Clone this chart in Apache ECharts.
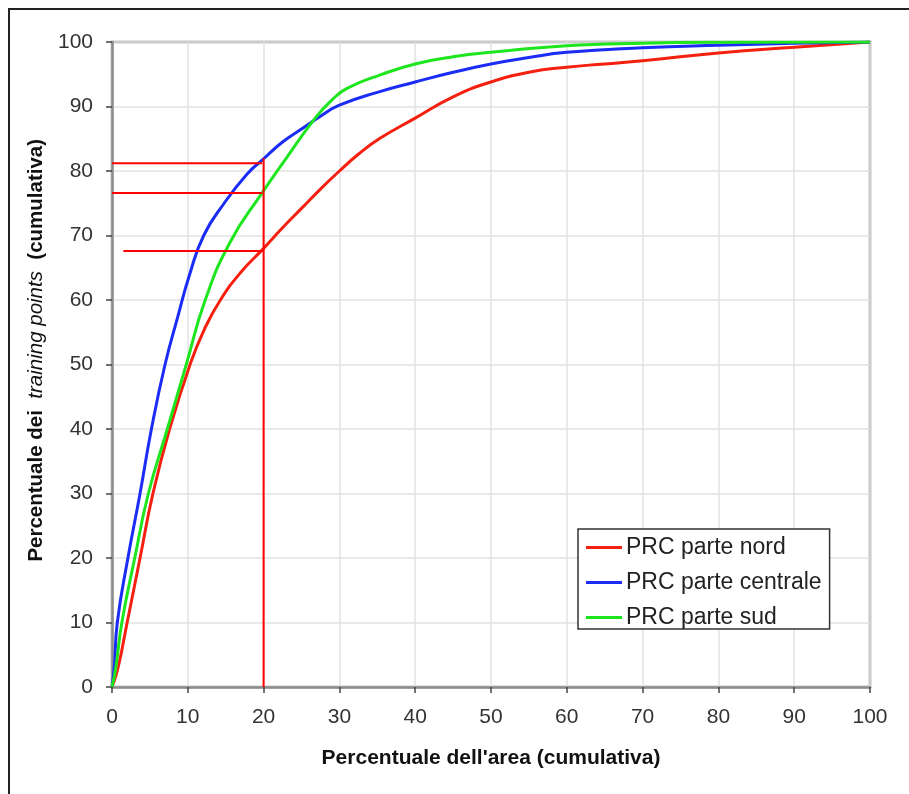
<!DOCTYPE html>
<html>
<head>
<meta charset="utf-8">
<script src="https://cdn.jsdelivr.net/npm/echarts@6/dist/echarts.min.js"></script>
<style>
  html, body { margin: 0; padding: 0; background: #fff; }
  #frame { position: absolute; left: 8px; top: 8px; width: 960px; height: 860px;
           border-left: 2px solid #222; border-top: 2px solid #222; }
  #chart { position: absolute; left: 0; top: 0; width: 909px; height: 794px; }
</style>
</head>
<body>
<div id="frame"></div>
<div id="chart"></div>
<script>
// ---- data (x = % area cumulative, y = % training points cumulative) ----
const seriesNames = ['PRC parte nord', 'PRC parte centrale', 'PRC parte sud'];
const xTicks = [0, 10, 20, 30, 40, 50, 60, 70, 80, 90, 100];
const yTicks = [0, 10, 20, 30, 40, 50, 60, 70, 80, 90, 100];

const nord = [[0,0],[0.8,3],[2,10],[3.7,20],[5.4,30],[7.6,40],[10.3,50],[12.2,55.5],[14.3,60],
  [17,64.3],[20,68],[22.5,71.2],[25,74.2],[27.5,77.2],[30,80],[32.5,82.6],[35.4,85.1],[40,88.2],
  [45,91.5],[50,93.8],[55,95.3],[60,96.1],[65,96.6],[70,97.1],[80,98.3],[90,99.2],[100,100]];
const centrale = [[0,0],[0.3,3],[0.7,10],[2.1,20],[3.7,30],[5.2,40],[7,50],[8.7,57.5],[10.2,63.8],
  [12.1,70],[14.8,75],[17.8,79.5],[20,81.9],[22.5,84.5],[25,86.5],[27.5,88.5],[30,90.2],
  [35,92.2],[40,93.8],[45,95.3],[50,96.6],[55,97.6],[60,98.4],[70,99.1],[80,99.5],[90,99.8],[100,100]];
const sud = [[0,0],[0.5,3],[1.3,10],[3,20],[4.8,30],[7.3,40],[9.8,50],[12.3,60],[15.6,69],
  [19.8,76.6],[23,82],[26.8,88.2],[29,91],[31,92.8],[35.4,94.9],[40,96.6],[45,97.7],[50,98.4],
  [60,99.4],[70,99.8],[80,99.95],[100,100]];

// reference lines at 20% area
const refVertical = [[20,0],[20,82]];
const refNord = [[1.5,67.6],[20,67.6]];
const refSud = [[0,76.6],[19.8,76.6]];
const refCentrale = [[0,81.2],[19.8,81.2]];

const colors = ['#f5200f', '#1a2cf5', '#1ee61e'];
const FONT = 'Liberation Sans, Arial, sans-serif';

const chart = echarts.init(document.getElementById('chart'), null, { renderer: 'canvas' });

function curve(name, data, color) {
  return {
    name, type: 'line', data, smooth: 0.5,
    symbol: 'none', lineStyle: { color, width: 3 }, itemStyle: { color },
    z: 3, silent: true
  };
}
function refLine(data) {
  return {
    type: 'line', data, symbol: 'none', silent: true,
    lineStyle: { color: '#ff0000', width: 2 }, z: 4
  };
}

chart.setOption({
  backgroundColor: 'transparent',
  animation: false,
  grid: { left: 112, right: 39, top: 42, bottom: 107, show: true,
          borderColor: '#8c8c8c', borderWidth: 2.5, containLabel: false },
  legend: {
    data: seriesNames.map((n) => ({ name: n, icon: 'rect' })),
    orient: 'vertical', left: 578, top: 529,
    itemWidth: 36, itemHeight: 3, itemGap: 12,
    padding: [7, 8, 0, 8],
    borderColor: '#333', borderWidth: 1.5, backgroundColor: '#fff',
    textStyle: { fontFamily: FONT, fontSize: 23, color: '#222', padding: [0, 0, 0, -1] },
    selectedMode: false
  },
  xAxis: {
    type: 'value', min: 0, max: 100, interval: 10,
    name: "Percentuale dell'area (cumulativa)", nameLocation: 'middle', nameGap: 61,
    nameTextStyle: { fontFamily: FONT, fontSize: 21, fontWeight: 'bold', color: '#111' },
    axisLine: { show: true, lineStyle: { color: '#8c8c8c', width: 2.5 } },
    axisTick: { show: true, length: 6, lineStyle: { color: '#444', width: 1.5 } },
    axisLabel: { fontFamily: FONT, fontSize: 21, color: '#333', margin: 20,
                 formatter: (v) => xTicks.includes(v) ? String(v) : '' },
    splitLine: { show: true, lineStyle: { color: '#e2e2e2', width: 1.5 } }
  },
  yAxis: {
    type: 'value', min: 0, max: 100, interval: 10,
    name: '{b|     Percentuale dei  }{i|training points}{b|  (cumulativa)}',
    nameLocation: 'middle', nameGap: 61, nameRotate: 90,
    nameTextStyle: { fontFamily: FONT, fontSize: 21, color: '#111',
      rich: {
        b: { fontFamily: FONT, fontSize: 20.5, fontWeight: 'bold', color: '#111' },
        i: { fontFamily: FONT, fontSize: 20.5, fontStyle: 'italic', color: '#111' }
      } },
    axisLine: { show: true, lineStyle: { color: '#8c8c8c', width: 2.5 } },
    axisTick: { show: true, length: 6, lineStyle: { color: '#444', width: 1.5 } },
    axisLabel: { fontFamily: FONT, fontSize: 21, color: '#333', margin: 19,
                 formatter: (v) => yTicks.includes(v) ? String(v) : '' },
    splitLine: { show: true, lineStyle: { color: '#e2e2e2', width: 1.5 } }
  },
  series: [
    curve(seriesNames[0], nord, colors[0]),
    curve(seriesNames[1], centrale, colors[1]),
    curve(seriesNames[2], sud, colors[2]),
    refLine(refVertical),
    refLine(refNord),
    refLine(refSud),
    refLine(refCentrale)
  ]
});
</script>
</body>
</html>
